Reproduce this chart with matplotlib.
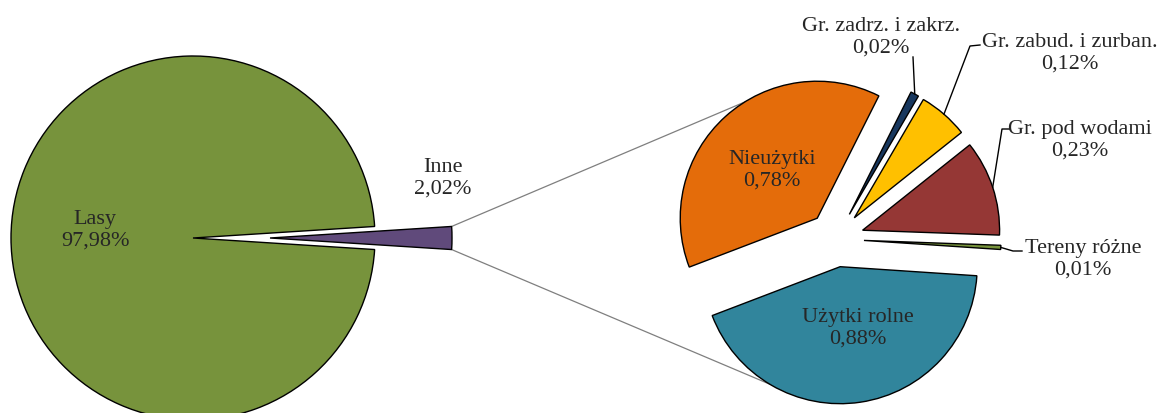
import numpy as np
import matplotlib.pyplot as plt

plt.rcParams['font.family'] = ['Liberation Serif', 'DejaVu Serif']

# --- dane ---
main_labels = ['Inne', 'Lasy']
main_values = [2.02, 97.98]
main_colors = ['#604A7B', '#77933C']

sub_labels = ['Użytki rolne', 'Nieużytki', 'Gr. zadrz. i zakrz.',
              'Gr. zabud. i zurban.', 'Gr. pod wodami', 'Tereny różne']
sub_values = [0.88, 0.78, 0.02, 0.12, 0.23, 0.01]
sub_colors = ['#31859C', '#E46C0A', '#17375E', '#FFC000', '#953735', '#77933C']


def fmt(name, v):
    return name + "\n" + f"{v:.2f}%".replace('.', ',')


fig = plt.figure(figsize=(11.64, 4.14), dpi=100)
ax = fig.add_axes([0, 0, 1, 1])

wp = dict(edgecolor='black', linewidth=1.0)

# lewy wykres (Lasy / Inne) - explode w jednostkach danych (px)
R1, R2 = 182, 137
half = main_values[0] / sum(main_values) * 360 / 2
w_main, _ = ax.pie(main_values, colors=main_colors, explode=[77, 0],
                   startangle=-half, center=(193, 175), radius=R1,
                   wedgeprops=wp)

# prawy wykres (rozbicie "Inne")
w_sub, _ = ax.pie(sub_values, colors=sub_colors, explode=[28] * 6,
                  startangle=356.2, counterclock=False,
                  center=(836, 174), radius=R2, wedgeprops=wp)


def arc_point(w, ang):
    cx, cy = w.center
    a = np.deg2rad(ang)
    return cx + w.r * np.cos(a), cy + w.r * np.sin(a)


# linie łączące
inne = w_main[0]
c1 = arc_point(inne, inne.theta2)
c2 = arc_point(inne, inne.theta1)
p_top = arc_point(w_sub[1], 122)
p_bot = arc_point(w_sub[0], 239)
ax.plot([c1[0], p_top[0]], [c1[1], p_top[1]], color='#7f7f7f', lw=0.9, zorder=0)
ax.plot([c2[0], p_bot[0]], [c2[1], p_bot[1]], color='#7f7f7f', lw=0.9, zorder=0)

fs = 16
tc = '#262626'

# etykiety
ax.text(95, 184, fmt(main_labels[1], main_values[1]), ha='center', va='center', fontsize=fs, color=tc)
ax.text(443, 236, fmt(main_labels[0], main_values[0]), ha='center', va='center', fontsize=fs, color=tc)

label_pos = [(858, 86), (772, 244), (881, 377), (1070, 361), (1080, 274), (1083, 155)]
for name, v, (x, y) in zip(sub_labels, sub_values, label_pos):
    ax.text(x, y, fmt(name, v), ha='center', va='center', fontsize=fs, color=tc)

# linie odniesienia
elbows = {2: [(913, 356)], 3: [(970, 367), (980, 368)],
          4: [(1002, 284), (1010, 284)], 5: [(1013, 162), (1022, 162)]}
for i, pts in elbows.items():
    w = w_sub[i]
    start = arc_point(w, (w.theta1 + w.theta2) / 2)
    xs = [start[0]] + [p[0] for p in pts]
    ys = [start[1]] + [p[1] for p in pts]
    ax.plot(xs, ys, color='black', lw=1.0)

ax.set_xlim(0, 1164)
ax.set_ylim(0, 414)
ax.set_aspect('equal')
ax.axis('off')

fig.savefig('out.png', dpi=100)
